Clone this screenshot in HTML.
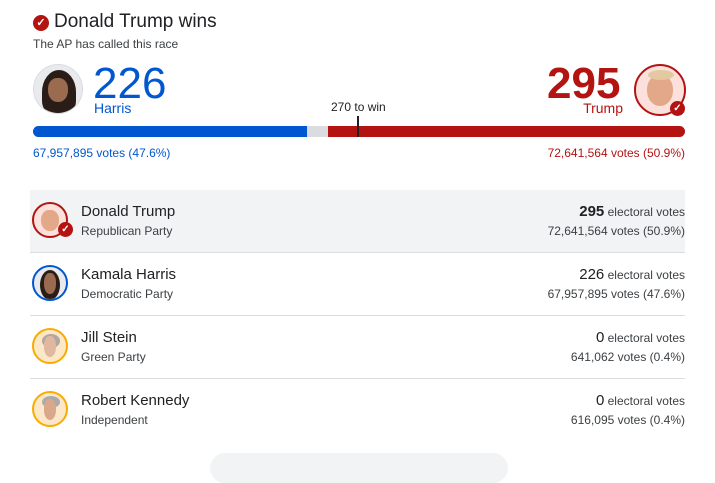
<!DOCTYPE html>
<html><head><meta charset="utf-8"><style>
body{margin:0;width:715px;height:466px;background:#fff;font-family:"Liberation Sans",Arial,sans-serif;position:relative;overflow:hidden;color:#202124}
.a{position:absolute;white-space:nowrap}
.av{position:absolute;border-radius:50%;box-sizing:border-box;overflow:hidden}
.face{position:absolute;left:22%;top:18%;width:56%;height:66%;border-radius:45% 45% 48% 48%}
.row{position:absolute;left:30px;width:655px;height:62px;border-bottom:1px solid #dadce0}
.nm{position:absolute;left:51px;top:13px;font-size:15px;color:#202124}
.pt{position:absolute;left:51px;top:34px;font-size:12px;color:#3c4043}
.ev{position:absolute;right:0;top:13px;font-size:12px;color:#3c4043}
.ev b{font-size:15px;font-weight:normal;color:#202124}
.vt{position:absolute;right:0;top:34px;font-size:12px;color:#3c4043}
.chk{position:absolute;border-radius:50%;background:#b31412;color:#fff;text-align:center;font-weight:bold}
</style></head><body>
<div class="chk" style="left:33px;top:15px;width:16px;height:16px;font-size:11px;line-height:16px">✓</div>
<div class="a" style="left:54px;top:11px;font-size:19px;color:#202124">Donald Trump wins</div>
<div class="a" style="left:33px;top:37px;font-size:12px;color:#3c4043">The AP has called this race</div>

<div class="av" style="left:33px;top:64px;width:50px;height:50px;background:#e8eaed;border:1px solid #dadce0"><div style="position:absolute;left:8px;top:5px;width:34px;height:44px;background:#2a1d17;border-radius:50% 50% 30% 30%"></div><div class="face" style="background:#9a6b4f;left:30%;width:40%;top:28%;height:50%"></div></div>
<div class="a" style="left:93px;top:59px;font-size:44px;color:#0057d0">226</div>
<div class="a" style="left:94px;top:100px;font-size:14px;color:#0057d0">Harris</div>

<div class="a" style="left:547px;top:59px;font-size:44px;color:#b31412;font-weight:bold">295</div>
<div class="a" style="right:92px;top:100px;font-size:14px;color:#b31412">Trump</div>
<div class="av" style="left:634px;top:64px;width:52px;height:52px;background:#fbe0dc;border:2px solid #b31412"><div class="face" style="background:#e3a888"></div><div style="position:absolute;left:12px;top:4px;width:26px;height:10px;background:#e4c9a0;border-radius:50%"></div></div>
<div class="chk" style="left:670px;top:101px;width:15px;height:15px;font-size:10px;line-height:15px">✓</div>

<div class="a" style="left:331px;top:100px;font-size:12px;color:#202124">270 to win</div>
<div class="a" style="left:33px;top:126px;width:652px;height:11px;border-radius:6px;overflow:hidden;background:#dadce0">
<div style="position:absolute;left:0;top:0;width:274px;height:11px;background:#0057d0"></div>
<div style="position:absolute;left:295px;top:0;width:357px;height:11px;background:#b31412"></div></div>
<div class="a" style="left:357px;top:116px;width:2px;height:21px;background:#202124"></div>
<div class="a" style="left:33px;top:146px;font-size:12px;color:#0057d0">67,957,895 votes (47.6%)</div>
<div class="a" style="right:30px;top:146px;font-size:12px;color:#b31412">72,641,564 votes (50.9%)</div>

<div class="row" style="top:190px;background:#f1f3f4">
<div class="av" style="left:2px;top:12px;width:36px;height:36px;border:2px solid #b31412;background:#fbe0dc"><div class="face" style="background:#e3a888"></div></div>
<div class="chk" style="left:28px;top:32px;width:15px;height:15px;font-size:10px;line-height:15px">✓</div>
<div class="nm">Donald Trump</div><div class="pt">Republican Party</div>
<div class="ev"><b style="font-weight:bold">295</b> electoral votes</div><div class="vt">72,641,564 votes (50.9%)</div></div>

<div class="row" style="top:253px">
<div class="av" style="left:2px;top:12px;width:36px;height:36px;border:2px solid #0057d0;background:#e8eaed"><div style="position:absolute;left:6px;top:3px;width:20px;height:30px;background:#2a1d17;border-radius:50%"></div><div class="face" style="background:#9a6b4f;left:32%;width:36%"></div></div>
<div class="nm">Kamala Harris</div><div class="pt">Democratic Party</div>
<div class="ev"><b>226</b> electoral votes</div><div class="vt">67,957,895 votes (47.6%)</div></div>

<div class="row" style="top:316px">
<div class="av" style="left:2px;top:12px;width:36px;height:36px;border:2px solid #f9ab00;background:#fce8c8"><div style="position:absolute;left:8px;top:4px;width:18px;height:14px;background:#b0a8a0;border-radius:50%"></div><div class="face" style="background:#e0b8a0;left:30%;width:40%"></div></div>
<div class="nm">Jill Stein</div><div class="pt">Green Party</div>
<div class="ev"><b>0</b> electoral votes</div><div class="vt">641,062 votes (0.4%)</div></div>

<div class="row" style="top:379px;border-bottom:none">
<div class="av" style="left:2px;top:12px;width:36px;height:36px;border:2px solid #f9ab00;background:#fce8c8"><div style="position:absolute;left:8px;top:3px;width:18px;height:12px;background:#aaa;border-radius:50%"></div><div class="face" style="background:#d9a88c;left:30%;width:40%"></div></div>
<div class="nm">Robert Kennedy</div><div class="pt">Independent</div>
<div class="ev"><b>0</b> electoral votes</div><div class="vt">616,095 votes (0.4%)</div></div>

<div class="a" style="left:210px;top:453px;width:298px;height:30px;border-radius:15px;background:#f1f3f4"></div>
</body></html>
